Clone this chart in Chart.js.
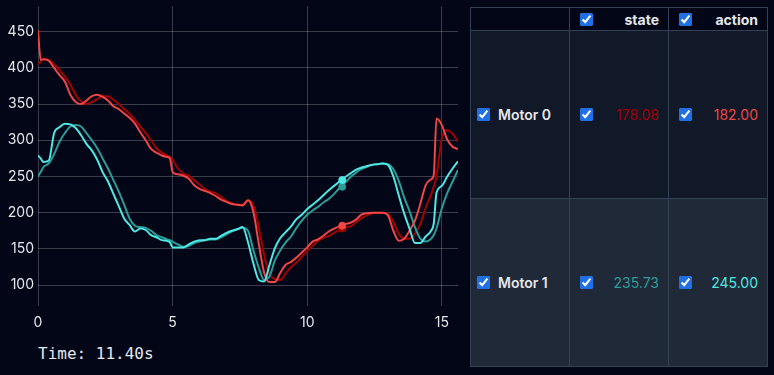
<!DOCTYPE html>
<html>
<head>
<meta charset="utf-8">
<title>Motor Playback</title>
<script src="https://cdn.jsdelivr.net/npm/chart.js@4.4.1/dist/chart.umd.min.js"></script>
<style>
    html, body {
        margin: 0;
        padding: 0;
        width: 774px;
        height: 375px;
        overflow: hidden;
        background: #020617;
        font-family: Inter, 'Noto Sans', sans-serif;
        color: #e5e7eb;
    }
    .chart-box {
        position: absolute;
        left: 8px;
        top: -6px;
        width: 455px;
        height: 337px;
    }
    .time-label {
        position: absolute;
        left: 38px;
        top: 344px;
        font-family: 'DejaVu Sans Mono', monospace;
        font-size: 16px;
        color: #e5e7eb;
    }
    table.motors {
        position: absolute;
        left: 470px;
        top: 7px;
        width: 298px;
        height: 360px;
        border-collapse: collapse;
        table-layout: fixed;
        font-size: 14px;
    }
    .motors td, .motors th {
        border: 1px solid #334155;
        padding: 0;
    }
    .motors thead tr { height: 23px; }
    .motors tbody tr { height: 168px; }
    .motors tbody tr:nth-child(1) { background: #111827; }
    .motors tbody tr:nth-child(2) { background: #1f2937; }
    .cell {
        display: flex;
        align-items: center;
        justify-content: space-between;
        padding: 0 9px 0 10px;
    }
    .name-cell {
        display: flex;
        align-items: center;
        padding-left: 6px;
        gap: 8px;
        font-weight: 600;
    }
    .motors th .cell span { font-weight: 700; }
    .motors input[type=checkbox] {
        margin: 0;
        width: 13px;
        height: 13px;
        accent-color: #1f6fe5;
    }
</style>
</head>
<body>
<div class="chart-box"><canvas id="motorChart"></canvas></div>
<div class="time-label" id="timeLabel"></div>
<table class="motors">
    <thead>
        <tr>
            <th></th>
            <th><div class="cell"><input type="checkbox" checked><span>state</span></div></th>
            <th><div class="cell"><input type="checkbox" checked><span>action</span></div></th>
        </tr>
    </thead>
    <tbody id="motorRows"></tbody>
</table>

<script>
// Chart Data
const time = [0, 0.1, 0.2, 0.4, 0.6, 0.8, 1.0, 1.2, 1.4, 1.6, 1.8, 2.0, 2.2, 2.4, 2.6, 2.8, 3.0,
    3.2, 3.4, 3.6, 3.8, 4.0, 4.2, 4.4, 4.6, 4.8, 4.9, 5.0, 5.2, 5.4, 5.6, 5.8, 6.0, 6.2, 6.4,
    6.6, 6.8, 7.0, 7.2, 7.4, 7.6, 7.8, 8.0, 8.2, 8.4, 8.6, 8.8, 9.0, 9.2, 9.4, 9.6, 9.8, 10.0,
    10.2, 10.4, 10.6, 10.8, 11.0, 11.2, 11.4, 11.6, 11.8, 12.0, 12.2, 12.4, 12.6, 12.8, 13.0,
    13.2, 13.4, 13.6, 13.8, 14.0, 14.2, 14.4, 14.6, 14.7, 14.8, 15.0, 15.2, 15.4, 15.6];

const motor0Action = [452, 411, 412, 410, 400, 390, 381, 363, 353, 350, 355, 361, 363, 360, 355, 347, 343,
    337, 331, 323, 311, 300, 288, 283, 279, 277, 275, 256, 253, 251, 247, 238, 233, 230, 227,
    223, 218, 215, 212, 211, 210, 217, 201, 157, 117, 104, 104, 117, 128, 132, 138, 145, 152,
    160, 163, 168, 174, 178, 181, 184, 186, 190, 197, 199, 200, 200, 200, 196,
    175, 161, 164, 175, 189, 212, 238, 246, 252, 330, 321, 301, 291, 288];

const motor0State = [405, 409, 412, 411, 405, 397, 388, 377, 363, 354, 350, 353, 357, 361, 361, 356, 350,
    343, 337, 328, 319, 310, 300, 289, 283, 279, 277, 273, 261, 254, 251, 245, 239, 233, 229,
    227, 222, 216, 213, 211, 211, 217, 210, 180, 141, 115, 108, 107, 116, 125, 131, 139, 147,
    154, 161, 165, 168, 172, 176, 179, 181, 186, 192, 196, 199, 200, 200, 198,
    187, 171, 164, 164, 171, 184, 207, 225, 236, 250, 303, 314, 309, 298];

const motor1Action = [279, 275, 270, 272, 310, 318, 323, 322, 317, 307, 295, 286, 273, 256, 243, 226, 209,
    192, 183, 174, 178, 176, 169, 166, 162, 161, 159, 152, 152, 152, 156, 160, 162, 162, 164,
    164, 168, 172, 175, 177, 180, 159, 130, 107, 105, 128, 151, 165, 173, 181, 191, 197, 205,
    211, 217, 224, 231, 237, 243, 249, 254, 259, 262, 264, 266, 267, 268, 266,
    250, 224, 199, 178, 158, 158, 167, 175, 185, 227, 237, 250, 261, 271];

const motor1State = [250, 256, 263, 268, 281, 298, 310, 319, 321, 319, 310, 300, 289, 275, 261, 245, 229,
    211, 192, 182, 180, 179, 175, 169, 166, 163, 162, 160, 156, 153, 154, 158, 160, 162, 163,
    163, 166, 170, 174, 177, 179, 175, 148, 124, 107, 112, 134, 148, 159, 167, 179, 189, 197,
    203, 208, 214, 219, 226, 234, 241, 249, 255, 260, 263, 266, 267, 268, 267,
    260, 244, 221, 202, 180, 164, 160, 164, 169, 178, 206, 227, 243, 259];

// Current readout (cursor)
const motorNames = ['Motor 0', 'Motor 1'];
const stateNow = [178.08, 235.73];
const actionNow = [182.00, 245.00];
const cursorTime = 11.3;
const timeShown = 11.40;

// Axis settings
const xRange = [0, 15.6];
const yRange = [71, 485];
const xStep = 5;
const yStep = 50;

const actionColors = ['#f04646', '#4fe8e4'];
const stateColors = ['#a30000', '#2a9d98'];

document.addEventListener('DOMContentLoaded', () => {
    buildTable();
    document.getElementById('timeLabel').textContent = 'Time: ' + timeShown.toFixed(2) + 's';
    initializeChart();
});

// Build motor table
function buildTable() {
    const body = document.getElementById('motorRows');
    motorNames.forEach((name, i) => {
        const tr = document.createElement('tr');
        tr.innerHTML = `
            <td><div class="name-cell"><input type="checkbox" checked><span>${name}</span></div></td>
            <td><div class="cell"><input type="checkbox" checked><span style="color:${stateColors[i]}">${stateNow[i].toFixed(2)}</span></div></td>
            <td><div class="cell"><input type="checkbox" checked><span style="color:${actionColors[i]}">${actionNow[i].toFixed(2)}</span></div></td>`;
        body.appendChild(tr);
    });
}

function toPoints(values) {
    return time.map((t, i) => ({ x: t, y: values[i] }));
}

function lineSet(values, color) {
    return {
        data: toPoints(values),
        borderColor: color,
        backgroundColor: color,
        borderWidth: 2,
        pointRadius: 0,
        cubicInterpolationMode: 'monotone',
        fill: false
    };
}

function markerSet(value, color) {
    return {
        type: 'scatter',
        data: [{ x: cursorTime, y: value }],
        backgroundColor: color,
        borderColor: color,
        pointRadius: 3.5,
        showLine: false
    };
}

// Initialize Chart
function initializeChart() {
    const ctx = document.getElementById('motorChart');
    const gridColor = 'rgba(255, 255, 255, 0.22)';

    new Chart(ctx, {
        type: 'line',
        data: {
            datasets: [
                markerSet(actionNow[1], actionColors[1]),
                markerSet(stateNow[1], stateColors[1]),
                markerSet(actionNow[0], actionColors[0]),
                markerSet(stateNow[0], stateColors[0]),
                lineSet(motor1Action, actionColors[1]),
                lineSet(motor0Action, actionColors[0]),
                lineSet(motor1State, stateColors[1]),
                lineSet(motor0State, stateColors[0])
            ]
        },
        options: {
            responsive: true,
            maintainAspectRatio: false,
            animation: false,
            layout: { padding: 0 },
            plugins: {
                legend: { display: false },
                tooltip: { enabled: false }
            },
            scales: {
                x: {
                    type: 'linear',
                    min: xRange[0],
                    max: xRange[1],
                    grid: { color: gridColor, drawTicks: false },
                    border: { display: false },
                    ticks: {
                        stepSize: xStep,
                        includeBounds: false,
                        padding: 8,
                        color: '#e5e7eb',
                        font: { family: 'Inter', size: 14 }
                    },
                    afterFit: (axis) => { axis.height = 25; }
                },
                y: {
                    min: yRange[0],
                    max: yRange[1],
                    grid: { color: gridColor, drawTicks: false },
                    border: { display: false },
                    ticks: {
                        stepSize: yStep,
                        includeBounds: false,
                        padding: 4,
                        color: '#e5e7eb',
                        font: { family: 'Inter', size: 14 }
                    },
                    afterFit: (axis) => { axis.width = 30; }
                }
            }
        }
    });
}
</script>
</body>
</html>
